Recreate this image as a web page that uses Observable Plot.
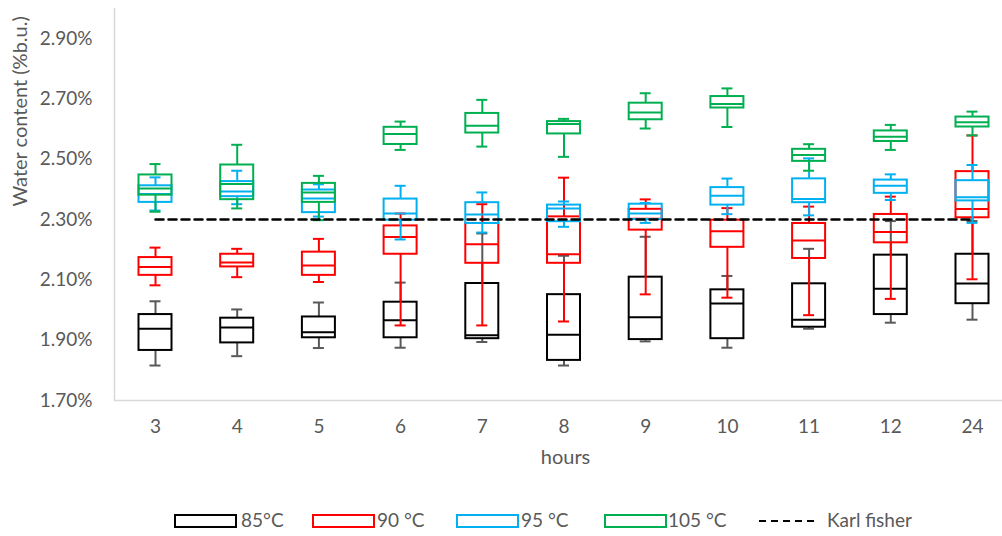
<!DOCTYPE html>
<html>
<head>
<meta charset="utf-8">
<script src="https://cdn.jsdelivr.net/npm/d3@7"></script>
<script src="https://cdn.jsdelivr.net/npm/@observablehq/plot@0.6"></script>
<style>
  html, body { margin: 0; padding: 0; background: #fff; }
  #wrap { position: relative; width: 1002px; height: 536px; font-family: Lato, "Open Sans", sans-serif; }
  #legend { position: absolute; left: 0; top: 480px; width: 1002px; height: 56px; color: #595959; font-size: 19px; }
  .item { position: absolute; top: 31px; height: 20px; }
  .item svg { position: absolute; top: 3px; left: 0; }
  .item span { position: absolute; top: -1px; white-space: nowrap; line-height: 20px; }
</style>
</head>
<body>
<div id="wrap"><div id="chart"></div><div id="legend"></div></div>
<script>
// Categories (hours)
const hours = ["3", "4", "5", "6", "7", "8", "9", "10", "11", "12", "24"];
// Each entry: [min, Q1, median, Q3, max] in % (wet basis)
const box85 = [
  [1.816, 1.866, 1.938, 1.985, 2.029],
  [1.847, 1.891, 1.942, 1.973, 2.002],
  [1.874, 1.908, 1.926, 1.977, 2.025],
  [1.875, 1.908, 1.966, 2.026, 2.091],
  [1.894, 1.905, 1.916, 2.088, 2.254],
  [1.816, 1.833, 1.918, 2.051, 2.180],
  [1.896, 1.902, 1.976, 2.109, 2.243],
  [1.875, 1.905, 2.022, 2.067, 2.113],
  [1.938, 1.943, 1.968, 2.087, 2.203],
  [1.958, 1.985, 2.071, 2.182, 2.295],
  [1.968, 2.021, 2.088, 2.185, 2.295]
];
const box90 = [
  [2.082, 2.115, 2.143, 2.174, 2.207],
  [2.109, 2.143, 2.158, 2.185, 2.203],
  [2.093, 2.115, 2.148, 2.192, 2.236],
  [1.949, 2.185, 2.242, 2.279, 2.320],
  [1.949, 2.155, 2.218, 2.287, 2.351],
  [1.962, 2.155, 2.185, 2.309, 2.439],
  [2.052, 2.265, 2.303, 2.334, 2.367],
  [2.041, 2.208, 2.261, 2.298, 2.338],
  [1.983, 2.171, 2.231, 2.287, 2.343],
  [2.037, 2.223, 2.259, 2.317, 2.376],
  [2.102, 2.306, 2.335, 2.459, 2.579]
];
const box95 = [
  [2.330, 2.357, 2.385, 2.412, 2.440],
  [2.351, 2.376, 2.393, 2.426, 2.462],
  [2.310, 2.323, 2.370, 2.398, 2.417],
  [2.234, 2.298, 2.320, 2.368, 2.412],
  [2.257, 2.287, 2.317, 2.356, 2.390],
  [2.276, 2.293, 2.337, 2.348, 2.360],
  [2.289, 2.300, 2.320, 2.351, 2.355],
  [2.318, 2.348, 2.379, 2.406, 2.436],
  [2.314, 2.356, 2.368, 2.435, 2.503],
  [2.365, 2.387, 2.412, 2.431, 2.450],
  [2.289, 2.362, 2.374, 2.429, 2.481]
];
const box105 = [
  [2.326, 2.381, 2.403, 2.448, 2.484],
  [2.337, 2.366, 2.418, 2.481, 2.548],
  [2.298, 2.357, 2.390, 2.420, 2.445],
  [2.531, 2.549, 2.584, 2.606, 2.625],
  [2.542, 2.587, 2.611, 2.652, 2.697],
  [2.508, 2.584, 2.617, 2.625, 2.634],
  [2.602, 2.631, 2.655, 2.686, 2.719],
  [2.607, 2.670, 2.683, 2.708, 2.735],
  [2.462, 2.493, 2.514, 2.533, 2.550],
  [2.531, 2.559, 2.575, 2.594, 2.614],
  [2.579, 2.607, 2.623, 2.640, 2.658]
];
const karlFisher = 2.30;
const yTicks = [1.70, 1.90, 2.10, 2.30, 2.50, 2.70, 2.90];
const seriesNames = ["85°C", "90 °C", "95 °C", "105 °C"];
const seriesColors = ["#000000", "#ff0000", "#00b0f0", "#00b050"];
const whiskerColors = ["#595959", "#ff0000", "#00b0f0", "#00b050"];
const karlLabel = "Karl fisher";

const allBoxes = [box85, box90, box95, box105];
const toRows = (vals) => vals.map((v, i) => ({hour: hours[i], min: v[0], q1: v[1], med: v[2], q3: v[3], max: v[4]}));

const marks = [
  Plot.ruleY([1.70], {stroke: "#d9d9d9", strokeWidth: 1.5}),
  Plot.frame({anchor: "left", stroke: "#d9d9d9", strokeWidth: 1.5}),
  Plot.axisX({tickSize: 0, tickPadding: 19, fontSize: 19, label: null}),
  Plot.axisY({ticks: yTicks, tickFormat: d => d.toFixed(2) + "%", tickSize: 0, tickPadding: 22, fontSize: 19, label: null}),
  Plot.text(["hours"], {frameAnchor: "bottom", dy: 63, dx: 7, fontSize: 20, fill: "#595959"}),
  Plot.text(["Water content (%b.u.)"], {frameAnchor: "left", dx: -94, dy: 2, rotate: -90, fontSize: 20, fill: "#595959"})
];

allBoxes.forEach((vals, k) => {
  const rows = toRows(vals);
  const sc = seriesColors[k], wc = whiskerColors[k];
  marks.push(
    Plot.ruleX(rows, {x: "hour", y1: "q3", y2: "max", stroke: wc, strokeWidth: 2}),
    Plot.ruleX(rows, {x: "hour", y1: "min", y2: "q1", stroke: wc, strokeWidth: 2}),
    Plot.tickY(rows, {x: "hour", y: "max", stroke: wc, strokeWidth: 2, insetLeft: 11, insetRight: 11}),
    Plot.tickY(rows, {x: "hour", y: "min", stroke: wc, strokeWidth: 2, insetLeft: 11, insetRight: 11}),
    Plot.barY(rows, {x: "hour", y1: "q1", y2: "q3", fill: "none", stroke: sc, strokeWidth: 2}),
    Plot.tickY(rows, {x: "hour", y: "med", stroke: sc, strokeWidth: 2})
  );
});

marks.push(Plot.lineY(hours, {x: d => d, y: () => karlFisher, stroke: "#000", strokeWidth: 2.5, strokeDasharray: "8,5"}));

const chart = Plot.plot({
  width: 1002,
  height: 480,
  marginLeft: 114,
  marginRight: 0,
  marginTop: 8,
  marginBottom: 80,
  style: {fontFamily: "Lato, 'Open Sans', sans-serif", color: "#595959", background: "#fff"},
  x: {type: "band", domain: hours, range: [138.5, 988.5], paddingInner: 0.596, paddingOuter: 0, round: false},
  y: {domain: [1.70, 3.00]},
  marks
});
document.getElementById("chart").appendChild(chart);

// Legend
const legend = document.getElementById("legend");
const swatchX = [174, 312, 456, 604];
const textX = [241, 377, 521, 668];
seriesNames.forEach((name, k) => {
  const it = document.createElement("div");
  it.className = "item";
  it.style.left = swatchX[k] + "px";
  it.innerHTML = `<svg width="64" height="14"><rect x="1" y="1" width="61" height="12" fill="none" stroke="${seriesColors[k]}" stroke-width="2"/></svg><span style="left:${textX[k] - swatchX[k]}px">${name}</span>`;
  legend.appendChild(it);
});
const kf = document.createElement("div");
kf.className = "item";
kf.style.left = "759px";
kf.innerHTML = `<svg width="60" height="14"><line x1="0" x2="57" y1="7" y2="7" stroke="#000" stroke-width="2" stroke-dasharray="7,5"/></svg><span style="left:68px">${karlLabel}</span>`;
legend.appendChild(kf);
</script>
</body>
</html>
